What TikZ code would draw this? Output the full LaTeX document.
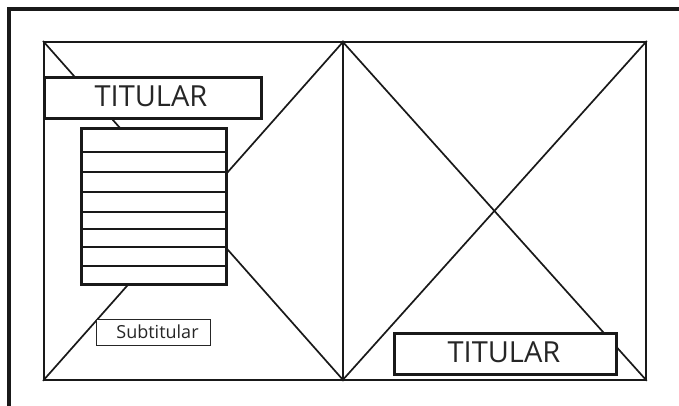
\documentclass[tikz,border=0pt]{standalone}
\usepackage{fontspec}
\setmainfont{Open Sans}
\begin{document}
\begin{tikzpicture}[x=1pt,y=-1pt,
  frameline/.style={line width=3.2pt,draw=black!90},
  panel/.style={draw=black!90,line width=1.8pt,rectangle,inner sep=0pt,anchor=north west},
  diag/.style={draw=black!90,line width=1.7pt},
  titlebox/.style={draw=black!90,line width=3pt,fill=white,rectangle,inner sep=0pt,anchor=north west},
  titletext/.style={font=\fontsize{29}{32}\selectfont,text=black!85,inner sep=0pt},
  listbox/.style={draw=black!90,line width=3pt,fill=white,rectangle,inner sep=0pt,anchor=north west},
  rowline/.style={draw=black!90,line width=2.8pt},
  subbox/.style={draw=black!85,line width=1.2pt,fill=white,rectangle,inner sep=0pt,anchor=north west},
  subtext/.style={font=\fontsize{18}{20}\selectfont,text=black!85,inner sep=0pt}
]
\useasboundingbox (0,0) rectangle (679,406);
% outer frame (only top and left visible)
\coordinate (fbl) at (9,410);
\coordinate (ftl) at (9,9);
\coordinate (ftr) at (682,9);
\draw[frameline] (fbl) -- (ftl) -- (ftr);
% panels
\node[panel,minimum width=299pt,minimum height=338pt] (pl) at (43,41) {};
\node[panel,minimum width=303pt,minimum height=338pt] (pr) at (342,41) {};
\draw[diag] (pl.north west) -- (pl.south east);
\draw[diag] (pl.north east) -- (pl.south west);
\draw[diag] (pr.north west) -- (pr.south east);
\draw[diag] (pr.north east) -- (pr.south west);
% left title
\node[titlebox,minimum width=217pt,minimum height=41pt] (t1) at (43,76) {};
\node[titletext] (t1txt) at (151,96.5) {TITULAR};
% list box
\node[listbox,minimum width=145pt,minimum height=156pt] (list) at (80,127) {};
\foreach \yy in {152,172,192,212,229,247,266}
  \draw[rowline] (list.west |- 0,\yy) -- (list.east |- 0,\yy);
% subtitle
\node[subbox,minimum width=114pt,minimum height=26pt] (sub) at (96,319) {};
\node[subtext] (subtxt) at (157.5,332) {Subtitular};
% right title
\node[titlebox,minimum width=222pt,minimum height=41pt] (t2) at (393,332) {};
\node[titletext] (t2txt) at (504,352.5) {TITULAR};
\end{tikzpicture}
\end{document}
